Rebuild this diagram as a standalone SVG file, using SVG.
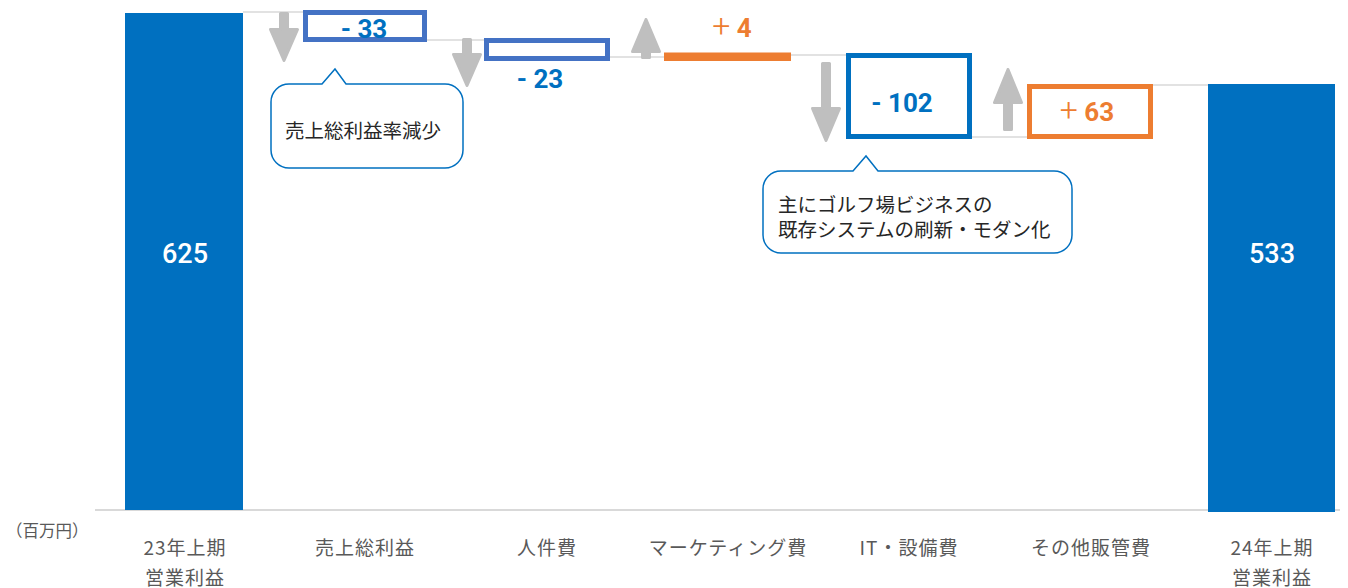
<svg xmlns="http://www.w3.org/2000/svg" width="1348" height="588" viewBox="0 0 1348 588">
<style>
.bar{fill:#0070C0}
.conn{stroke:#D9D9D9;stroke-width:1.5;fill:none}
.arrow{fill:#BFBFBF;stroke:#BFBFBF;stroke-width:3;stroke-linejoin:round}
.box{fill:none;stroke-width:5}
.num{font-family:Roboto,"Liberation Sans","Noto Sans CJK JP",sans-serif;font-size:26px;font-weight:bold;text-anchor:middle}
.plus{font-weight:300;font-size:32px}
.blue{fill:#0070C0}
.orange{fill:#ED7D31}
.callout{fill:#FFFFFF;stroke:#0070C0;stroke-width:1.5}
.ctext{font-family:"Noto Sans CJK JP",sans-serif;font-size:19.5px;fill:#262626}
.cat{font-family:"Noto Sans CJK JP",sans-serif;font-size:19px;fill:#595959;text-anchor:middle;letter-spacing:1px}
.white{fill:#FFFFFF;font-weight:500;font-size:27px}
</style>
<g id="axis">
<line x1="95" y1="510" x2="1340" y2="510" stroke="#D9D9D9" stroke-width="2"/>
</g>
<g id="connectors">
<line class="conn" x1="243" y1="12" x2="305" y2="12"/>
<line class="conn" x1="427" y1="40" x2="486" y2="40"/>
<line class="conn" x1="608" y1="57" x2="664" y2="57"/>
<line class="conn" x1="791" y1="55" x2="846" y2="55"/>
<line class="conn" x1="972" y1="137" x2="1027" y2="137"/>
<line class="conn" x1="1153" y1="85" x2="1208" y2="85"/>
<path class="arrow" d="M280.5,13.5 H287.5 V29.5 H297.5 L284,60.5 L270.5,29.5 H280.5 Z"/>
<path class="arrow" d="M463.5,39.5 H470.5 V54.5 H480.5 L467,85.5 L453.5,54.5 H463.5 Z"/>
<path class="arrow" d="M642.5,57.5 H649.5 V51.5 H659.5 L646,19.5 L632.5,51.5 H642.5 Z"/>
<path class="arrow" d="M822.5,63.5 H829.5 V108.5 H839.5 L826,140.5 L812.5,108.5 H822.5 Z"/>
<path class="arrow" d="M1004.5,129.5 H1011.5 V102.5 H1021.5 L1008,69.5 L994.5,102.5 H1004.5 Z"/>
</g>
<g id="bar-23h1">
<rect class="bar" x="125" y="13" width="118" height="497"/>
<text class="num white" x="185" y="263">625</text>
</g>
<g id="step-gross-profit">
<rect class="box" x="305.5" y="12.5" width="119" height="27" stroke="#4472C4"/>
<text class="num blue" x="364" y="38">- 33</text>
</g>
<g id="step-personnel">
<rect class="box" x="486.5" y="40.5" width="121" height="18" stroke="#4472C4"/>
<text class="num blue" x="540" y="88">- 23</text>
</g>
<g id="step-marketing">
<rect x="664" y="52.5" width="127" height="8.5" fill="#ED7D31"/>
<text class="num orange" x="732" y="37"><tspan class="plus">+</tspan> 4</text>
</g>
<g id="step-it">
<rect class="box" x="848.5" y="55.5" width="121" height="81" stroke="#0070C0"/>
<text class="num blue" x="902" y="112">- 102</text>
</g>
<g id="step-other">
<rect class="box" x="1029.5" y="86.5" width="121" height="50" stroke="#ED7D31"/>
<text class="num orange" x="1087" y="121"><tspan class="plus">+</tspan> 63</text>
</g>
<g id="bar-24h1">
<rect class="bar" x="1208" y="84" width="127" height="428"/>
<text class="num white" x="1272" y="263">533</text>
</g>
<g id="callout-gross">
<path class="callout" d="M289,84 H322 L335,69 L346,84 H445 A18,18 0 0 1 463,102 V150 A18,18 0 0 1 445,168 H289 A18,18 0 0 1 271,150 V102 A18,18 0 0 1 289,84 Z"/>
<text class="ctext" x="285" y="138">売上総利益率減少</text>
</g>
<g id="callout-it">
<path class="callout" d="M781,171 H853 L866,156 L878,171 H1054 A18,18 0 0 1 1072,189 V235 A18,18 0 0 1 1054,253 H781 A18,18 0 0 1 763,235 V189 A18,18 0 0 1 781,171 Z"/>
<text class="ctext" x="778" y="212">主にゴルフ場ビジネスの</text>
<text class="ctext" x="778" y="237">既存システムの刷新・モダン化</text>
</g>
<g id="labels">
<text x="6" y="537" font-family="'Noto Sans CJK JP',sans-serif" font-size="16.5" fill="#595959">（百万円）</text>
<text class="cat" x="185" y="555">23年上期</text>
<text class="cat" x="185" y="585">営業利益</text>
<text class="cat" x="365" y="555">売上総利益</text>
<text class="cat" x="547" y="555">人件費</text>
<text class="cat" x="728" y="555">マーケティング費</text>
<text class="cat" x="909" y="555">IT・設備費</text>
<text class="cat" x="1091" y="555">その他販管費</text>
<text class="cat" x="1272" y="555">24年上期</text>
<text class="cat" x="1272" y="585">営業利益</text>
</g>
</svg>
